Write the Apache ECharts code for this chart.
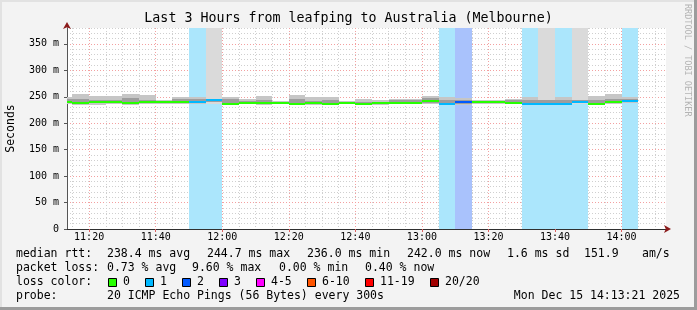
<!DOCTYPE html>
<html><head><meta charset="utf-8">
<script src="https://cdn.jsdelivr.net/npm/echarts@6/dist/echarts.min.js"></script>
<style>html,body{margin:0;padding:0;background:#f3f3f3}#c{width:697px;height:310px}</style>
</head><body><div id="c"></div>
<script>
// ---- data ----
const stepEnds   = ['11:15','11:20','11:25','11:30','11:35','11:40','11:45','11:50','11:55','12:00',
                    '12:05','12:10','12:15','12:20','12:25','12:30','12:35','12:40','12:45','12:50',
                    '12:55','13:00','13:05','13:10','13:15','13:20','13:25','13:30','13:35','13:40',
                    '13:45','13:50','13:55','14:00','14:05'];
const medianMs   = [241,239,241,240,239,239.5,239.5,239.5,241,244.5,
                    237,239,238.5,238.5,237,238.5,237,238.5,237,237.5,
                    239,239,241.5,236.5,241,240,240,239,237,237,
                    237,240,237,240,242];
const smokeMinMs = [236,234,235,236,235,236,237,236,236,237,
                    234,236,235,236,234,235,234,236,234,235,
                    236,236,236,234,234,237,237,236,235,235,
                    235,236,235,236,238];
const smokeMaxMs = [250,255,251.5,251.5,255,253,244,250,249,400,
                    249,245,251.5,242.5,253,249,250,242,246,244,
                    246,246,252,250,247,243,243,246,249,400,
                    250,400,252,255,249];
const coreMinMs  = [239,237,239,238,237,238,238,238,239,241,
                    236,238,237,237,236,237,236,237,236,236,
                    238,238,239,235.5,237,239,239,238,236,236,
                    236,238,236,238,240];
const coreMaxMs  = [245,246,244,243,247,244,242,245,245,246,
                    245,242,244,241,245,242,243,240,241,241,
                    243,244,247,244,244,242,242,244,243,244,
                    243,244,243,245,245];
const lostPings  = [0,0,0,0,0,0,0,0,1,1,
                    0,0,0,0,0,0,0,0,0,0,
                    0,0,0,1,2,0,0,0,1,1,
                    1,1,0,0,1];
const xMajorTicks = ['11:20','11:40','12:00','12:20','12:40','13:00','13:20','13:40','14:00'];
const xMinorTicks = ['11:15','11:25','11:30','11:35','11:45','11:50','11:55','12:05','12:10','12:15',
                     '12:25','12:30','12:35','12:45','12:50','12:55','13:05','13:10','13:15','13:25',
                     '13:30','13:35','13:45','13:50','13:55','14:05','14:10'];
const yMajorTicks = [0,50,100,150,200,250,300,350];
const viewStart = '11:13:21', viewEnd = '14:13:21';
const yMaxMs = 380;
const stepMinutes = 5;
const lossLabels = ['0','1','2','3','4-5','6-10','11-19','20/20'];
const lossColors = ['#26ff00','#00b8ff','#0059ff','#7e00ff','#ff00ff','#ff5500','#ff0000','#a10000'];
const lossBgColors = ['#ffffff','#abe6fc','#a9c2fc','#cfa9fc','#fca9fc','#fcc8a9','#fca9a9','#e2a9a9'];
const rttStats  = ['238.4 ms avg','244.7 ms max','236.0 ms min','242.0 ms now','1.6 ms sd','151.9','am/s'];
const lossStats = ['0.73 % avg','9.60 % max','0.00 % min','0.40 % now'];
const titleText = 'Last 3 Hours from leafping to Australia (Melbourne)';
const probeText = '20 ICMP Echo Pings (56 Bytes) every 300s';
const dateText  = 'Mon Dec 15 14:13:21 2025';
const sideText  = 'RRDTOOL / TOBI OETIKER';

// ---- helpers ----
const toMin = s => { const p = s.split(':').map(Number); return (p[0] - 11) * 60 + p[1] + (p[2] || 0) / 60; };
const fromMin = v => { const t = Math.round(v); const h = 11 + Math.floor(t / 60), m = t % 60; return h + ':' + (m < 10 ? '0' : '') + m; };
const lossBucket = n => n <= 3 ? n : n <= 5 ? 4 : n <= 10 ? 5 : n <= 19 ? 6 : 7;
const FONT = 'DejaVu Sans Mono';

const steps = stepEnds.map((e, i) => [toMin(e) - stepMinutes, toMin(e), smokeMinMs[i], smokeMaxMs[i],
  coreMinMs[i], coreMaxMs[i], medianMs[i], lostPings[i]]);

function rect(api, x0, x1, y0, y1, fill) {
  const a = api.coord([x0, y1]), b = api.coord([x1, y0]);
  const L = Math.round(a[0]), R = Math.round(b[0]);
  const T = Math.round(a[1]), B = Math.round(b[1]);
  return { type: 'rect', shape: { x: L, y: T, width: R - L, height: B - T }, style: { fill: fill } };
}

const chart = echarts.init(document.getElementById('c'), null, { renderer: 'canvas' });

const baseAxisX = { type: 'value', min: toMin(viewStart), max: toMin(viewEnd), gridIndex: 0, position: 'bottom' };
const baseAxisY = { type: 'value', min: 0, max: yMaxMs, gridIndex: 0, position: 'left' };

const legendTexts = [];
function txt(x, y, s, opt) {
  legendTexts.push(Object.assign({ type: 'text', x: x, y: y, style: Object.assign({ text: s, font: '11.5px "' + FONT + '"',
    fill: '#000', textAlign: 'left', textVerticalAlign: 'middle' }, opt || {}) }));
}
txt(16, 254.5, 'median rtt:');
[107, 207, 307, 407, 507, 584, 642].forEach((x, i) => txt(x, 254.5, rttStats[i]));
txt(16, 268.5, 'packet loss:');
[107, 192, 279, 365].forEach((x, i) => txt(x, 268.5, lossStats[i]));
txt(16, 282.5, 'loss color:');
[108, 145, 182, 219, 256, 307, 365, 430].forEach((x, i) => {
  legendTexts.push({ type: 'rect', shape: { x: x + 0.5, y: 278.5, width: 8, height: 8 },
    style: { fill: lossColors[i], stroke: '#000', lineWidth: 1 } });
  txt(x + 15, 282.5, lossLabels[i]);
});
txt(16, 296.5, 'probe:');
txt(107, 296.5, probeText);
txt(680, 296.5, dateText, { textAlign: 'right' });

chart.setOption({
  animation: false,
  backgroundColor: '#f3f3f3',
  grid: { left: 67, right: 31, top: 28, bottom: 81, containLabel: false, outerBoundsMode: 'none',
    show: true, backgroundColor: '#ffffff', borderWidth: 0 },
  xAxis: [
    Object.assign({}, baseAxisX, {
      axisLine: { show: true, onZero: false, symbol: ['none', 'arrow'], symbolSize: [6, 7], symbolOffset: [0, 5],
        lineStyle: { color: '#8b1a1a', width: 1 } },
      axisTick: { show: false, customValues: xMinorTicks.map(toMin) },
      axisLabel: { show: false, customValues: xMinorTicks.map(toMin) },
      splitLine: { show: true, lineStyle: { color: '#cfcfcf', type: [1, 2], width: 1 } }
    }),
    Object.assign({}, baseAxisX, {
      axisLine: { show: true, onZero: false, lineStyle: { color: '#303030', width: 1 } },
      axisTick: { show: true, length: 3, customValues: xMajorTicks.map(toMin), lineStyle: { color: '#e06060' } },
      axisLabel: { show: true, customValues: xMajorTicks.map(toMin), formatter: v => fromMin(v), margin: 3,
        fontFamily: FONT, fontSize: 10, color: '#000' },
      splitLine: { show: true, lineStyle: { color: '#f3a0a0', type: [1, 2], width: 1 } }
    })
  ],
  yAxis: [
    Object.assign({}, baseAxisY, {
      interval: 10,
      axisLine: { show: true, onZero: false, symbol: ['none', 'arrow'], symbolSize: [6, 7], symbolOffset: [0, 6],
        lineStyle: { color: '#8b1a1a', width: 1 } },
      axisTick: { show: false }, axisLabel: { show: false },
      splitLine: { show: true, lineStyle: { color: '#cfcfcf', type: [1, 2], width: 1 } }
    }),
    Object.assign({}, baseAxisY, {
      interval: 50,
      name: 'Seconds', nameLocation: 'middle', nameRotate: 90, nameGap: 50,
      nameTextStyle: { fontFamily: FONT, fontSize: 11.5, color: '#000' },
      axisLine: { show: true, onZero: false, lineStyle: { color: '#555', width: 1 } },
      axisTick: { show: true, length: 3, customValues: yMajorTicks, lineStyle: { color: '#555' } },
      axisLabel: { show: true, customValues: yMajorTicks, margin: 8, fontFamily: FONT, fontSize: 10, color: '#000',
        formatter: v => v === 0 ? '0' : v + ' m' },
      splitLine: { show: true, lineStyle: { color: '#f3a0a0', type: [1, 2], width: 1 } }
    })
  ],
  series: [
    { // loss background
      type: 'custom', xAxisIndex: 1, yAxisIndex: 1, clip: true, z: 1, data: steps,
      renderItem: (p, api) => {
        const n = api.value(7);
        if (!n) return null;
        return rect(api, api.value(0), api.value(1), 0, yMaxMs, lossBgColors[lossBucket(n)]);
      }
    },
    { // smoke
      type: 'custom', xAxisIndex: 1, yAxisIndex: 1, clip: true, z: 2, data: steps,
      renderItem: (p, api) => ({ type: 'group', children: [
        rect(api, api.value(0), api.value(1), api.value(2), api.value(3), api.value(3) > yMaxMs ? '#dadada' : '#c6c6c6'),
        rect(api, api.value(0), api.value(1), api.value(4), api.value(5), '#9d9d9d')
      ] })
    },
    { // median, coloured by loss
      type: 'custom', xAxisIndex: 1, yAxisIndex: 1, clip: true, z: 3, data: steps,
      renderItem: (p, api) => {
        const a = api.coord([api.value(0), api.value(6)]), b = api.coord([api.value(1), api.value(6)]);
        const L = Math.round(a[0]), R = Math.round(b[0]);
        return { type: 'rect', shape: { x: L, y: Math.round(a[1]) - 1, width: R - L, height: 2 },
          style: { fill: lossColors[lossBucket(api.value(7))] } };
      }
    }
  ],
  graphic: [
    { type: 'text', x: 348.5, y: 19, style: { text: titleText, font: '13.3px "' + FONT + '"', fill: '#000',
      textAlign: 'center', textVerticalAlign: 'middle' } },
    { type: 'text', x: 687, y: 4, rotation: -Math.PI / 2, style: { text: sideText, font: '8.5px "' + FONT + '"',
      fill: '#b4b4b4', textAlign: 'left', textVerticalAlign: 'middle' } },
    { type: 'rect', shape: { x: 0, y: 0, width: 697, height: 2 }, style: { fill: '#e2e2e2' } },
    { type: 'rect', shape: { x: 0, y: 0, width: 2, height: 310 }, style: { fill: '#e2e2e2' } },
    { type: 'rect', shape: { x: 0, y: 307, width: 697, height: 3 }, style: { fill: '#9c9c9c' } },
    { type: 'rect', shape: { x: 694, y: 0, width: 3, height: 310 }, style: { fill: '#9c9c9c' } }
  ].concat(legendTexts)
});
</script></body></html>
